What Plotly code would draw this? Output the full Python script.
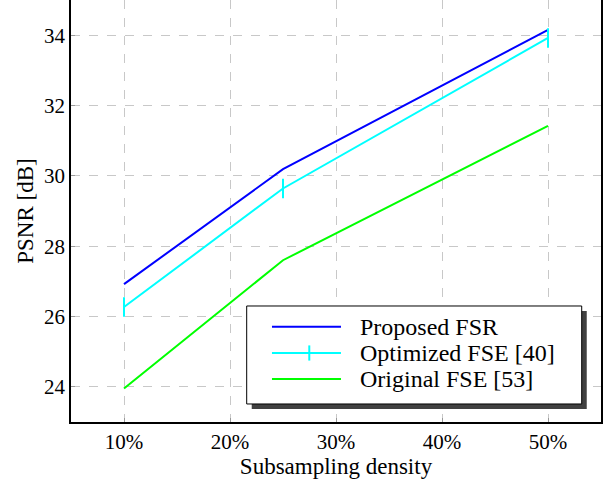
import plotly.graph_objects as go

density = [10, 25, 50]
proposed_fsr = [26.92, 30.19, 34.15]
optimized_fse = [26.27, 29.64, 33.92]
original_fse = [23.95, 27.60, 31.42]
x_ticks = [10, 20, 30, 40, 50]
x_tick_labels = ["10%", "20%", "30%", "40%", "50%"]
y_ticks = [24, 26, 28, 30, 32, 34]
series_names = ["Proposed FSR", "Optimized FSE [40]", "Original FSE [53]"]
series_colors = ["#0000ff", "#00ffff", "#00ff00"]

FONT = "Liberation Serif"

fig = go.Figure()
fig.add_trace(go.Scatter(x=density, y=proposed_fsr, mode="lines", name=series_names[0],
                         line=dict(color=series_colors[0], width=2)))
fig.add_trace(go.Scatter(x=density, y=optimized_fse, mode="lines+markers", name=series_names[1],
                         line=dict(color=series_colors[1], width=2),
                         marker=dict(symbol="line-ns-open", size=14, color=series_colors[1],
                                     line=dict(color=series_colors[1], width=2))))
fig.add_trace(go.Scatter(x=density, y=original_fse, mode="lines", name=series_names[2],
                         line=dict(color=series_colors[2], width=2)))

grid = dict(showgrid=True, gridcolor="#c8c8c8", griddash="dash", gridwidth=1,
            showline=True, linecolor="black", linewidth=1.5, mirror=True,
            ticks="inside", ticklen=4, tickcolor="#999999", zeroline=False,
            automargin=False,
            tickfont=dict(family=FONT, size=21, color="black"))

fig.update_xaxes(range=[5, 55], tickvals=x_ticks, ticktext=x_tick_labels,
                 title=dict(text="Subsampling density", font=dict(family=FONT, size=23, color="black"), standoff=2),
                 **grid)
fig.update_yaxes(range=[23, 35], tickvals=y_ticks,
                 title=dict(text="PSNR [dB]", font=dict(family=FONT, size=23, color="black"), standoff=4),
                 **grid)

# manual legend (paper coordinates)
lx0, lx1, ly0, ly1 = 0.3315, 0.9636, 0.0427, 0.2749
fig.add_shape(type="rect", xref="paper", yref="paper", x0=lx0 + 0.0095, x1=lx1 + 0.0095,
              y0=ly0 - 0.012, y1=ly1 - 0.012, fillcolor="#404040", line=dict(width=0), layer="above")
fig.add_shape(type="rect", xref="paper", yref="paper", x0=lx0, x1=lx1, y0=ly0, y1=ly1,
              fillcolor="white", line=dict(color="black", width=1), layer="above")
row_y = [0.2258, 0.1635, 0.1019]
for name, color, yy in zip(series_names, series_colors, row_y):
    fig.add_shape(type="line", xref="paper", yref="paper", x0=0.3792, x1=0.5094, y0=yy, y1=yy,
                  line=dict(color=color, width=2), layer="above")
    fig.add_annotation(xref="paper", yref="paper", x=0.5415, y=yy, text=name, showarrow=False,
                       xanchor="left", yanchor="middle", font=dict(family=FONT, size=24, color="black"))
fig.add_shape(type="line", xref="paper", yref="paper", x0=0.4496, x1=0.4496, y0=row_y[1] - 0.018,
              y1=row_y[1] + 0.018, line=dict(color=series_colors[1], width=2), layer="above")

fig.update_layout(
    width=615, height=483,
    margin=dict(l=71, r=14, t=0, b=61),
    plot_bgcolor="white", paper_bgcolor="white",
    font=dict(family=FONT, size=20, color="black"),
    showlegend=False,
)

fig.write_html("out.html", config={"displayModeBar": False},
               post_script="document.body.style.margin='0px';")
